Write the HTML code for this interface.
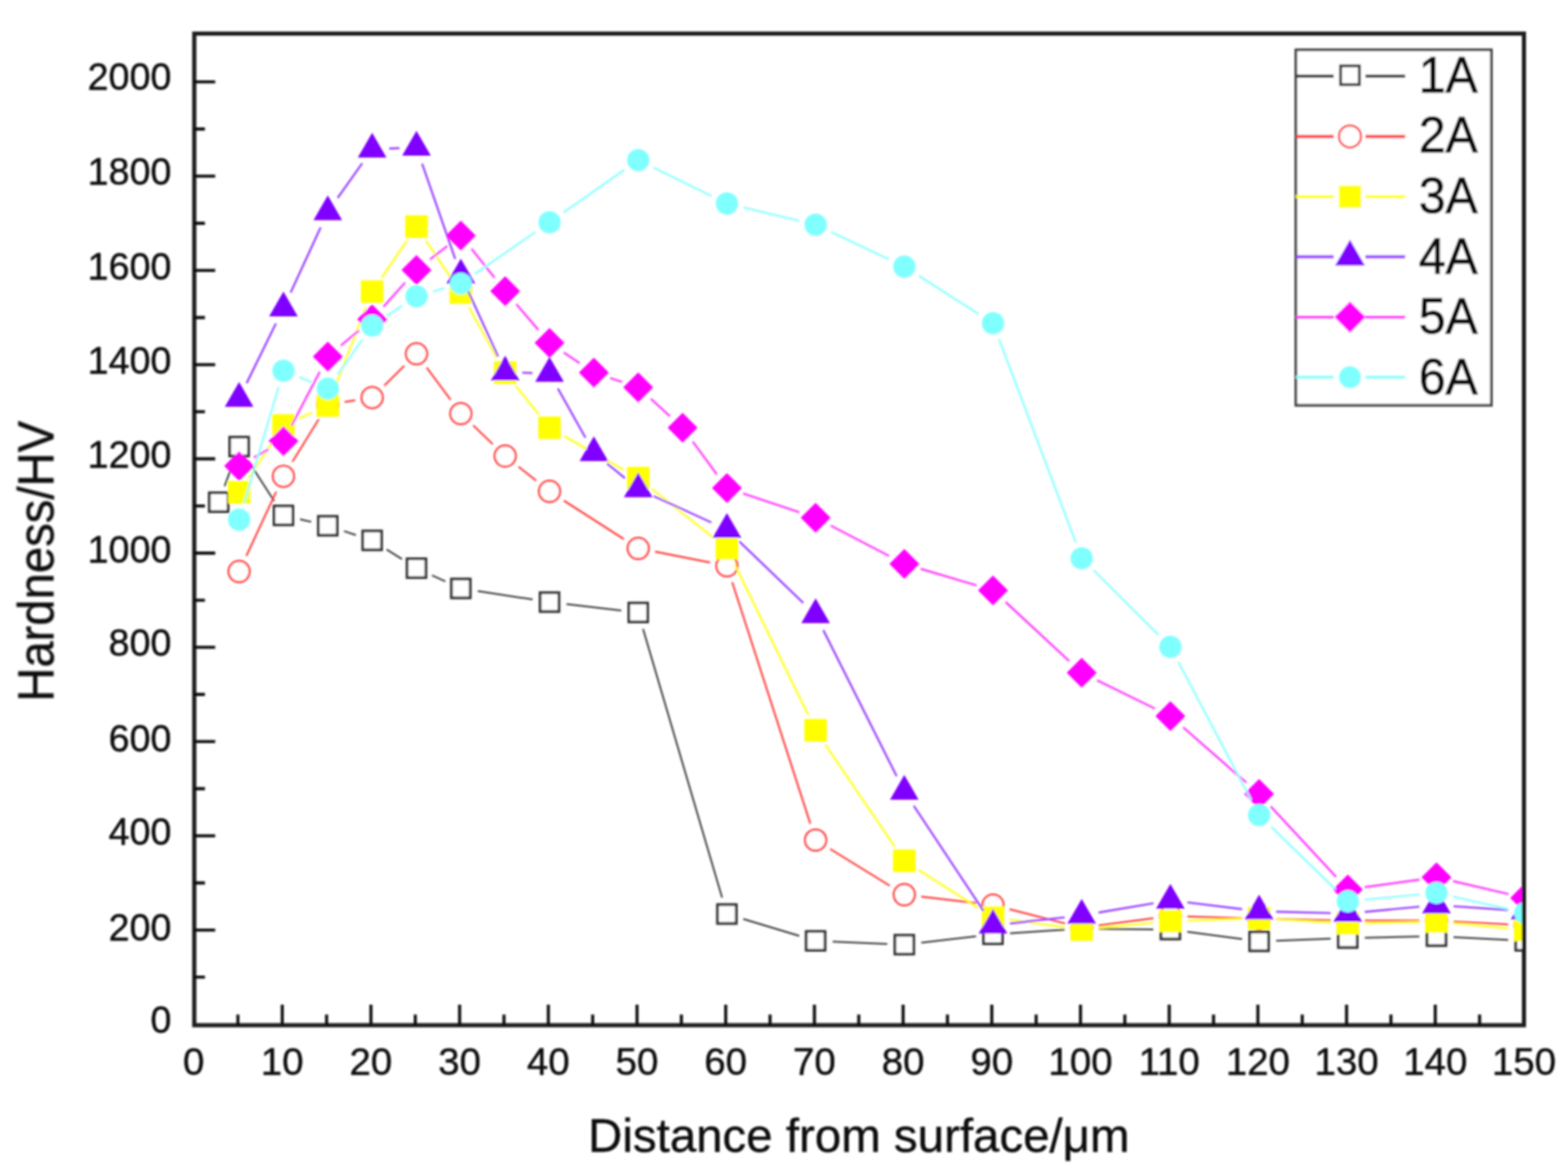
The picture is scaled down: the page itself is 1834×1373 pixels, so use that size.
<!DOCTYPE html>
<html><head><meta charset="utf-8"><title>Hardness profile</title>
<style>html,body{margin:0;padding:0;background:#fff;}body{width:1834px;height:1373px;overflow:hidden;}svg{display:block;}</style>
</head><body>
<svg width="1834" height="1373" viewBox="0 0 1834 1373"><defs><filter id="bl" x="0" y="0" width="1834" height="1373" filterUnits="userSpaceOnUse"><feGaussianBlur stdDeviation="0.8"/></filter><clipPath id="pc"><rect x="227.2" y="39.3" width="1553.8" height="1159.7"/></clipPath></defs><rect width="1834" height="1373" fill="#fff"/><g filter="url(#bl)"><g clip-path="url(#pc)"><path d="M262.70 568.56L272.78 541.09 M290.51 539.12L320.70 585.96 M351.02 607.32L363.93 610.34 M402.41 621.15L416.28 625.72 M452.23 642.59L470.20 653.86 M505.34 672.79L520.83 679.87 M558.79 691.22L622.99 701.11 M662.62 706.48L726.64 713.96 M752.14 735.47L844.60 1049.77 M869.38 1074.75L934.84 1094.57 M973.96 1101.21L1037.74 1103.92 M1077.58 1102.45L1141.60 1094.97 M1181.42 1091.38L1245.24 1087.31 M1285.20 1086.25L1348.94 1086.93 M1388.77 1089.77L1452.85 1098.28 M1492.67 1100.17L1556.43 1097.80 M1596.42 1096.63L1660.16 1095.28 M1700.13 1095.91L1763.93 1099.30" fill="none" stroke="#383838" stroke-width="2.0"/><rect x="244.81" y="576.34" width="22.0" height="22.0" fill="#fff" stroke="#333333" stroke-width="3.2"/><rect x="268.67" y="511.31" width="22.0" height="22.0" fill="#fff" stroke="#333333" stroke-width="3.2"/><rect x="320.54" y="591.77" width="22.0" height="22.0" fill="#fff" stroke="#333333" stroke-width="3.2"/><rect x="372.41" y="603.89" width="22.0" height="22.0" fill="#fff" stroke="#333333" stroke-width="3.2"/><rect x="424.28" y="620.97" width="22.0" height="22.0" fill="#fff" stroke="#333333" stroke-width="3.2"/><rect x="476.15" y="653.48" width="22.0" height="22.0" fill="#fff" stroke="#333333" stroke-width="3.2"/><rect x="528.02" y="677.18" width="22.0" height="22.0" fill="#fff" stroke="#333333" stroke-width="3.2"/><rect x="631.76" y="693.16" width="22.0" height="22.0" fill="#fff" stroke="#333333" stroke-width="3.2"/><rect x="735.50" y="705.28" width="22.0" height="22.0" fill="#fff" stroke="#333333" stroke-width="3.2"/><rect x="839.24" y="1057.95" width="22.0" height="22.0" fill="#fff" stroke="#333333" stroke-width="3.2"/><rect x="942.98" y="1089.36" width="22.0" height="22.0" fill="#fff" stroke="#333333" stroke-width="3.2"/><rect x="1046.72" y="1093.77" width="22.0" height="22.0" fill="#fff" stroke="#333333" stroke-width="3.2"/><rect x="1150.46" y="1081.65" width="22.0" height="22.0" fill="#fff" stroke="#333333" stroke-width="3.2"/><rect x="1254.20" y="1075.04" width="22.0" height="22.0" fill="#fff" stroke="#333333" stroke-width="3.2"/><rect x="1357.94" y="1076.14" width="22.0" height="22.0" fill="#fff" stroke="#333333" stroke-width="3.2"/><rect x="1461.68" y="1089.92" width="22.0" height="22.0" fill="#fff" stroke="#333333" stroke-width="3.2"/><rect x="1565.42" y="1086.06" width="22.0" height="22.0" fill="#fff" stroke="#333333" stroke-width="3.2"/><rect x="1669.16" y="1083.85" width="22.0" height="22.0" fill="#fff" stroke="#333333" stroke-width="3.2"/><rect x="1772.90" y="1089.36" width="22.0" height="22.0" fill="#fff" stroke="#333333" stroke-width="3.2"/><path d="M288.12 650.21L323.09 575.16 M342.07 540.03L372.88 490.27 M403.16 470.12L415.53 468.15 M449.51 450.95L472.92 427.81 M499.06 429.82L527.11 467.67 M553.48 497.56L576.43 519.51 M606.53 545.80L627.12 562.20 M659.58 585.48L729.68 630.53 M766.12 645.20L830.62 657.87 M856.40 680.76L947.82 963.41 M971.01 992.93L1040.69 1035.87 M1077.58 1048.68L1141.60 1056.16 M1180.84 1063.43L1245.82 1079.99 M1285.03 1082.30L1349.11 1073.79 M1388.93 1071.80L1452.69 1073.83 M1492.68 1074.89L1556.42 1076.24 M1596.42 1076.67L1660.16 1076.67 M1700.13 1077.73L1763.93 1081.12" fill="none" stroke="#ff4040" stroke-width="2.2"/><circle cx="279.67" cy="668.34" r="12.30" fill="#fff" stroke="#ff3535" stroke-width="2.5"/><circle cx="331.54" cy="557.03" r="12.30" fill="#fff" stroke="#ff3535" stroke-width="2.5"/><circle cx="383.41" cy="473.27" r="12.30" fill="#fff" stroke="#ff3535" stroke-width="2.5"/><circle cx="435.28" cy="465.00" r="12.30" fill="#fff" stroke="#ff3535" stroke-width="2.5"/><circle cx="487.15" cy="413.76" r="12.30" fill="#fff" stroke="#ff3535" stroke-width="2.5"/><circle cx="539.02" cy="483.74" r="12.30" fill="#fff" stroke="#ff3535" stroke-width="2.5"/><circle cx="590.89" cy="533.33" r="12.30" fill="#fff" stroke="#ff3535" stroke-width="2.5"/><circle cx="642.76" cy="574.66" r="12.30" fill="#fff" stroke="#ff3535" stroke-width="2.5"/><circle cx="746.50" cy="641.34" r="12.30" fill="#fff" stroke="#ff3535" stroke-width="2.5"/><circle cx="850.24" cy="661.73" r="12.30" fill="#fff" stroke="#ff3535" stroke-width="2.5"/><circle cx="953.98" cy="982.44" r="12.30" fill="#fff" stroke="#ff3535" stroke-width="2.5"/><circle cx="1057.72" cy="1046.36" r="12.30" fill="#fff" stroke="#ff3535" stroke-width="2.5"/><circle cx="1161.46" cy="1058.48" r="12.30" fill="#fff" stroke="#ff3535" stroke-width="2.5"/><circle cx="1265.20" cy="1084.93" r="12.30" fill="#fff" stroke="#ff3535" stroke-width="2.5"/><circle cx="1368.94" cy="1071.16" r="12.30" fill="#fff" stroke="#ff3535" stroke-width="2.5"/><circle cx="1472.68" cy="1074.46" r="12.30" fill="#fff" stroke="#ff3535" stroke-width="2.5"/><circle cx="1576.42" cy="1076.67" r="12.30" fill="#fff" stroke="#ff3535" stroke-width="2.5"/><circle cx="1680.16" cy="1076.67" r="12.30" fill="#fff" stroke="#ff3535" stroke-width="2.5"/><circle cx="1783.90" cy="1082.18" r="12.30" fill="#fff" stroke="#ff3535" stroke-width="2.5"/><path d="M290.72 559.09L320.49 514.19 M349.80 489.37L365.15 482.52 M390.66 455.73L428.03 359.66 M446.55 324.49L475.88 281.49 M498.31 281.57L527.86 325.52 M548.71 359.62L581.20 418.30 M603.43 451.38L630.22 484.69 M660.15 510.15L729.11 549.35 M762.18 571.65L834.56 628.93 M859.01 659.32L945.21 836.07 M965.22 870.59L1046.48 990.14 M1074.59 1017.44L1144.59 1062.06 M1181.27 1075.55L1245.39 1084.40 M1285.11 1085.24L1349.03 1079.12 M1388.93 1076.58L1452.69 1074.55 M1492.65 1075.08L1556.45 1078.81 M1596.42 1079.55L1660.16 1078.20 M1700.07 1079.67L1763.99 1085.79" fill="none" stroke="#ffff20" stroke-width="2.4"/><rect x="266.52" y="562.61" width="26.3" height="26.3" fill="#ffff00"/><rect x="318.39" y="484.37" width="26.3" height="26.3" fill="#ffff00"/><rect x="370.26" y="461.22" width="26.3" height="26.3" fill="#ffff00"/><rect x="422.13" y="327.87" width="26.3" height="26.3" fill="#ffff00"/><rect x="474.00" y="251.82" width="26.3" height="26.3" fill="#ffff00"/><rect x="525.87" y="328.97" width="26.3" height="26.3" fill="#ffff00"/><rect x="577.74" y="422.65" width="26.3" height="26.3" fill="#ffff00"/><rect x="629.61" y="487.12" width="26.3" height="26.3" fill="#ffff00"/><rect x="733.35" y="546.08" width="26.3" height="26.3" fill="#ffff00"/><rect x="837.09" y="628.19" width="26.3" height="26.3" fill="#ffff00"/><rect x="940.83" y="840.89" width="26.3" height="26.3" fill="#ffff00"/><rect x="1044.57" y="993.54" width="26.3" height="26.3" fill="#ffff00"/><rect x="1148.31" y="1059.66" width="26.3" height="26.3" fill="#ffff00"/><rect x="1252.05" y="1073.99" width="26.3" height="26.3" fill="#ffff00"/><rect x="1355.79" y="1064.07" width="26.3" height="26.3" fill="#ffff00"/><rect x="1459.53" y="1060.76" width="26.3" height="26.3" fill="#ffff00"/><rect x="1563.27" y="1066.83" width="26.3" height="26.3" fill="#ffff00"/><rect x="1667.01" y="1064.62" width="26.3" height="26.3" fill="#ffff00"/><rect x="1770.75" y="1074.54" width="26.3" height="26.3" fill="#ffff00"/><path d="M288.47 448.15L322.74 378.26 M339.92 342.14L375.03 266.05 M394.96 231.56L423.73 190.93 M455.26 173.75L467.17 173.25 M493.71 191.29L532.46 302.84 M547.33 339.92L582.58 417.06 M610.88 435.88L622.77 436.26 M652.54 454.35L684.85 512.03 M710.11 542.14L731.02 559.24 M764.69 580.22L832.05 610.99 M864.66 633.16L939.56 705.18 M962.95 736.91L1048.75 907.81 M1068.77 942.35L1150.41 1065.51 M1181.34 1079.96L1245.32 1072.82 M1284.92 1067.26L1349.22 1056.33 M1388.79 1055.40L1452.83 1063.22 M1492.67 1066.18L1556.43 1067.87 M1596.33 1066.50L1660.25 1060.39 M1700.11 1059.86L1763.95 1064.27" fill="none" stroke="#9a45ff" stroke-width="2.4"/><polygon points="279.67,446.76 262.92,475.78 296.42,475.78" fill="#8000ff"/><polygon points="331.54,340.96 314.79,369.97 348.29,369.97" fill="#8000ff"/><polygon points="383.41,228.55 366.66,257.56 400.16,257.56" fill="#8000ff"/><polygon points="435.28,155.26 418.53,184.27 452.03,184.27" fill="#8000ff"/><polygon points="487.15,153.05 470.40,182.07 503.90,182.07" fill="#8000ff"/><polygon points="539.02,302.39 522.27,331.40 555.77,331.40" fill="#8000ff"/><polygon points="590.89,415.91 574.14,444.92 607.64,444.92" fill="#8000ff"/><polygon points="642.76,417.56 626.01,446.57 659.51,446.57" fill="#8000ff"/><polygon points="694.63,510.14 677.88,539.15 711.38,539.15" fill="#8000ff"/><polygon points="746.50,552.57 729.75,581.58 763.25,581.58" fill="#8000ff"/><polygon points="850.24,599.96 833.49,628.97 866.99,628.97" fill="#8000ff"/><polygon points="953.98,699.70 937.23,728.71 970.73,728.71" fill="#8000ff"/><polygon points="1057.72,906.34 1040.97,935.35 1074.47,935.35" fill="#8000ff"/><polygon points="1161.46,1062.84 1144.71,1091.85 1178.21,1091.85" fill="#8000ff"/><polygon points="1265.20,1051.27 1248.45,1080.28 1281.95,1080.28" fill="#8000ff"/><polygon points="1368.94,1033.63 1352.19,1062.64 1385.69,1062.64" fill="#8000ff"/><polygon points="1472.68,1046.31 1455.93,1075.32 1489.43,1075.32" fill="#8000ff"/><polygon points="1576.42,1049.06 1559.67,1078.07 1593.17,1078.07" fill="#8000ff"/><polygon points="1680.16,1039.14 1663.41,1068.15 1696.91,1068.15" fill="#8000ff"/><polygon points="1783.90,1046.31 1767.15,1075.32 1800.65,1075.32" fill="#8000ff"/><path d="M297.10 535.09L314.11 525.51 M340.85 498.00L374.10 434.76 M398.73 404.20L419.96 386.39 M448.63 358.64L473.80 330.56 M502.95 303.41L523.22 287.70 M551.49 291.08L578.42 324.83 M603.89 355.66L629.76 385.89 M659.38 412.21L678.01 424.67 M713.63 442.05L727.50 446.62 M761.27 466.37L783.60 486.78 M810.22 516.38L838.39 554.69 M869.21 577.15L935.01 599.17 M971.72 614.76L1039.98 650.29 M1076.89 665.23L1142.29 684.68 M1176.11 704.00L1250.55 773.20 M1283.17 795.60L1350.97 828.73 M1383.98 850.70L1457.64 915.25 M1486.28 943.10L1562.82 1025.64 M1596.23 1037.56L1660.35 1028.71 M1699.64 1030.52L1764.42 1045.67" fill="none" stroke="#ff3cff" stroke-width="2.4"/><polygon points="279.67,527.41 297.17,544.91 279.67,562.41 262.17,544.91" fill="#ff00ff"/><polygon points="331.54,498.20 349.04,515.70 331.54,533.20 314.04,515.70" fill="#ff00ff"/><polygon points="383.41,399.56 400.91,417.06 383.41,434.56 365.91,417.06" fill="#ff00ff"/><polygon points="435.28,356.03 452.78,373.53 435.28,391.03 417.78,373.53" fill="#ff00ff"/><polygon points="487.15,298.17 504.65,315.67 487.15,333.17 469.65,315.67" fill="#ff00ff"/><polygon points="539.02,257.94 556.52,275.44 539.02,292.94 521.52,275.44" fill="#ff00ff"/><polygon points="590.89,322.97 608.39,340.47 590.89,357.97 573.39,340.47" fill="#ff00ff"/><polygon points="642.76,383.58 660.26,401.08 642.76,418.58 625.26,401.08" fill="#ff00ff"/><polygon points="694.63,418.30 712.13,435.80 694.63,453.30 677.13,435.80" fill="#ff00ff"/><polygon points="746.50,435.38 764.00,452.88 746.50,470.38 729.00,452.88" fill="#ff00ff"/><polygon points="798.37,482.77 815.87,500.27 798.37,517.77 780.87,500.27" fill="#ff00ff"/><polygon points="850.24,553.31 867.74,570.81 850.24,588.31 832.74,570.81" fill="#ff00ff"/><polygon points="953.98,588.02 971.48,605.52 953.98,623.02 936.48,605.52" fill="#ff00ff"/><polygon points="1057.72,642.02 1075.22,659.52 1057.72,677.02 1040.22,659.52" fill="#ff00ff"/><polygon points="1161.46,672.88 1178.96,690.38 1161.46,707.88 1143.96,690.38" fill="#ff00ff"/><polygon points="1265.20,769.32 1282.70,786.82 1265.20,804.32 1247.70,786.82" fill="#ff00ff"/><polygon points="1368.94,820.01 1386.44,837.51 1368.94,855.01 1351.44,837.51" fill="#ff00ff"/><polygon points="1472.68,910.94 1490.18,928.44 1472.68,945.94 1455.18,928.44" fill="#ff00ff"/><polygon points="1576.42,1022.80 1593.92,1040.30 1576.42,1057.80 1558.92,1040.30" fill="#ff00ff"/><polygon points="1680.16,1008.47 1697.66,1025.97 1680.16,1043.47 1662.66,1025.97" fill="#ff00ff"/><polygon points="1783.90,1032.72 1801.40,1050.22 1783.90,1067.72 1766.40,1050.22" fill="#ff00ff"/><path d="M285.38 588.56L325.83 452.76 M350.09 441.08L364.86 447.05 M394.91 438.17L423.78 397.06 M451.98 369.69L470.45 357.53 M506.37 341.01L519.80 337.16 M555.48 320.28L626.30 271.38 M659.14 248.53L730.12 198.76 M764.47 196.06L832.27 229.19 M869.69 242.62L934.53 258.12 M972.06 271.32L1039.64 303.26 M1074.59 322.56L1144.59 367.19 M1168.52 396.65L1258.14 634.20 M1279.35 667.04L1354.79 742.38 M1378.27 774.20L1463.35 935.54 M1487.02 967.17L1562.08 1040.14 M1596.33 1052.17L1660.25 1046.06 M1699.66 1048.61L1764.40 1063.40" fill="none" stroke="#8cffff" stroke-width="2.3"/><circle cx="279.67" cy="607.73" r="13.00" fill="#80ffff"/><circle cx="331.54" cy="433.59" r="13.00" fill="#80ffff"/><circle cx="383.41" cy="454.53" r="13.00" fill="#80ffff"/><circle cx="435.28" cy="380.69" r="13.00" fill="#80ffff"/><circle cx="487.15" cy="346.53" r="13.00" fill="#80ffff"/><circle cx="539.02" cy="331.65" r="13.00" fill="#80ffff"/><circle cx="642.76" cy="260.01" r="13.00" fill="#80ffff"/><circle cx="746.50" cy="187.27" r="13.00" fill="#80ffff"/><circle cx="850.24" cy="237.97" r="13.00" fill="#80ffff"/><circle cx="953.98" cy="262.77" r="13.00" fill="#80ffff"/><circle cx="1057.72" cy="311.81" r="13.00" fill="#80ffff"/><circle cx="1161.46" cy="377.94" r="13.00" fill="#80ffff"/><circle cx="1265.20" cy="652.91" r="13.00" fill="#80ffff"/><circle cx="1368.94" cy="756.51" r="13.00" fill="#80ffff"/><circle cx="1472.68" cy="953.23" r="13.00" fill="#80ffff"/><circle cx="1576.42" cy="1054.08" r="13.00" fill="#80ffff"/><circle cx="1680.16" cy="1044.16" r="13.00" fill="#80ffff"/><circle cx="1783.90" cy="1067.85" r="13.00" fill="#80ffff"/></g><rect x="227.2" y="39.3" width="1555.3" height="1159.7" fill="none" stroke="#1a1a1a" stroke-width="4.8"/><path d="M278.27 1199.0V1186.5 M330.14 1199.0V1175.0 M382.01 1199.0V1186.5 M433.88 1199.0V1175.0 M485.75 1199.0V1186.5 M537.62 1199.0V1175.0 M589.49 1199.0V1186.5 M641.36 1199.0V1175.0 M693.23 1199.0V1186.5 M745.10 1199.0V1175.0 M796.97 1199.0V1186.5 M848.84 1199.0V1175.0 M900.71 1199.0V1186.5 M952.58 1199.0V1175.0 M1004.45 1199.0V1186.5 M1056.32 1199.0V1175.0 M1108.19 1199.0V1186.5 M1160.06 1199.0V1175.0 M1211.93 1199.0V1186.5 M1263.80 1199.0V1175.0 M1315.67 1199.0V1186.5 M1367.54 1199.0V1175.0 M1419.41 1199.0V1186.5 M1471.28 1199.0V1175.0 M1523.15 1199.0V1186.5 M1575.02 1199.0V1175.0 M1626.89 1199.0V1186.5 M1678.76 1199.0V1175.0 M1730.63 1199.0V1186.5 M227.2 1142.80H239.7 M227.2 1087.69H251.7 M227.2 1032.59H239.7 M227.2 977.48H251.7 M227.2 922.38H239.7 M227.2 867.27H251.7 M227.2 812.17H239.7 M227.2 757.06H251.7 M227.2 701.96H239.7 M227.2 646.85H251.7 M227.2 591.75H239.7 M227.2 536.64H251.7 M227.2 481.54H239.7 M227.2 426.43H251.7 M227.2 371.33H239.7 M227.2 316.22H251.7 M227.2 261.12H239.7 M227.2 206.01H251.7 M227.2 150.90H239.7 M227.2 95.80H251.7" stroke="#111" stroke-width="3.6" fill="none"/><text x="226.40" y="1256.8" font-family="'Liberation Sans', Arial, sans-serif" stroke="#111" stroke-width="0.5" font-size="45" text-anchor="middle" fill="#111">0</text><text x="330.14" y="1256.8" font-family="'Liberation Sans', Arial, sans-serif" stroke="#111" stroke-width="0.5" font-size="45" text-anchor="middle" fill="#111">10</text><text x="433.88" y="1256.8" font-family="'Liberation Sans', Arial, sans-serif" stroke="#111" stroke-width="0.5" font-size="45" text-anchor="middle" fill="#111">20</text><text x="537.62" y="1256.8" font-family="'Liberation Sans', Arial, sans-serif" stroke="#111" stroke-width="0.5" font-size="45" text-anchor="middle" fill="#111">30</text><text x="641.36" y="1256.8" font-family="'Liberation Sans', Arial, sans-serif" stroke="#111" stroke-width="0.5" font-size="45" text-anchor="middle" fill="#111">40</text><text x="745.10" y="1256.8" font-family="'Liberation Sans', Arial, sans-serif" stroke="#111" stroke-width="0.5" font-size="45" text-anchor="middle" fill="#111">50</text><text x="848.84" y="1256.8" font-family="'Liberation Sans', Arial, sans-serif" stroke="#111" stroke-width="0.5" font-size="45" text-anchor="middle" fill="#111">60</text><text x="952.58" y="1256.8" font-family="'Liberation Sans', Arial, sans-serif" stroke="#111" stroke-width="0.5" font-size="45" text-anchor="middle" fill="#111">70</text><text x="1056.32" y="1256.8" font-family="'Liberation Sans', Arial, sans-serif" stroke="#111" stroke-width="0.5" font-size="45" text-anchor="middle" fill="#111">80</text><text x="1160.06" y="1256.8" font-family="'Liberation Sans', Arial, sans-serif" stroke="#111" stroke-width="0.5" font-size="45" text-anchor="middle" fill="#111">90</text><text x="1263.80" y="1256.8" font-family="'Liberation Sans', Arial, sans-serif" stroke="#111" stroke-width="0.5" font-size="45" text-anchor="middle" fill="#111">100</text><text x="1367.54" y="1256.8" font-family="'Liberation Sans', Arial, sans-serif" stroke="#111" stroke-width="0.5" font-size="45" text-anchor="middle" fill="#111">110</text><text x="1471.28" y="1256.8" font-family="'Liberation Sans', Arial, sans-serif" stroke="#111" stroke-width="0.5" font-size="45" text-anchor="middle" fill="#111">120</text><text x="1575.02" y="1256.8" font-family="'Liberation Sans', Arial, sans-serif" stroke="#111" stroke-width="0.5" font-size="45" text-anchor="middle" fill="#111">130</text><text x="1678.76" y="1256.8" font-family="'Liberation Sans', Arial, sans-serif" stroke="#111" stroke-width="0.5" font-size="45" text-anchor="middle" fill="#111">140</text><text x="1782.50" y="1256.8" font-family="'Liberation Sans', Arial, sans-serif" stroke="#111" stroke-width="0.5" font-size="45" text-anchor="middle" fill="#111">150</text><text x="200.5" y="1208.30" font-family="'Liberation Sans', Arial, sans-serif" stroke="#111" stroke-width="0.5" font-size="44" text-anchor="end" fill="#111">0</text><text x="200.5" y="1099.99" font-family="'Liberation Sans', Arial, sans-serif" stroke="#111" stroke-width="0.5" font-size="44" text-anchor="end" fill="#111">200</text><text x="200.5" y="987.88" font-family="'Liberation Sans', Arial, sans-serif" stroke="#111" stroke-width="0.5" font-size="44" text-anchor="end" fill="#111">400</text><text x="200.5" y="879.47" font-family="'Liberation Sans', Arial, sans-serif" stroke="#111" stroke-width="0.5" font-size="44" text-anchor="end" fill="#111">600</text><text x="200.5" y="767.46" font-family="'Liberation Sans', Arial, sans-serif" stroke="#111" stroke-width="0.5" font-size="44" text-anchor="end" fill="#111">800</text><text x="200.5" y="657.75" font-family="'Liberation Sans', Arial, sans-serif" stroke="#111" stroke-width="0.5" font-size="44" text-anchor="end" fill="#111">1000</text><text x="200.5" y="547.04" font-family="'Liberation Sans', Arial, sans-serif" stroke="#111" stroke-width="0.5" font-size="44" text-anchor="end" fill="#111">1200</text><text x="200.5" y="436.83" font-family="'Liberation Sans', Arial, sans-serif" stroke="#111" stroke-width="0.5" font-size="44" text-anchor="end" fill="#111">1400</text><text x="200.5" y="326.62" font-family="'Liberation Sans', Arial, sans-serif" stroke="#111" stroke-width="0.5" font-size="44" text-anchor="end" fill="#111">1600</text><text x="200.5" y="216.41" font-family="'Liberation Sans', Arial, sans-serif" stroke="#111" stroke-width="0.5" font-size="44" text-anchor="end" fill="#111">1800</text><text x="200.5" y="104.80" font-family="'Liberation Sans', Arial, sans-serif" stroke="#111" stroke-width="0.5" font-size="44" text-anchor="end" fill="#111">2000</text><text x="1004.5" y="1347" font-family="'Liberation Sans', Arial, sans-serif" stroke="#111" stroke-width="0.5" font-size="55.5" text-anchor="middle" fill="#111">Distance from surface/μm</text><text transform="translate(62.5,656.5) rotate(-90)" font-family="'Liberation Sans', Arial, sans-serif" stroke="#111" stroke-width="0.5" font-size="58.5" text-anchor="middle" textLength="328.5" lengthAdjust="spacingAndGlyphs" fill="#111">Hardness/HV</text><rect x="1515.7" y="58.3" width="228.7" height="415.7" fill="#fff" stroke="#444" stroke-width="3.2"/><path d="M1515.7 89.2H1560M1597 89.2H1643.5" stroke="#383838" stroke-width="3.8" fill="none"/><rect x="1568.00" y="77.00" width="22.0" height="22.0" fill="#fff" stroke="#333333" stroke-width="3.2"/><text x="1659.5" y="107.6" font-family="'Liberation Sans', Arial, sans-serif" stroke="#111" stroke-width="0.9" font-size="59" textLength="69" lengthAdjust="spacingAndGlyphs" fill="#111">1A</text><path d="M1515.7 159.6H1560M1597 159.6H1643.5" stroke="#ff4040" stroke-width="3.8" fill="none"/><circle cx="1579.00" cy="159.60" r="12.92" fill="#fff" stroke="#ff3535" stroke-width="2.5"/><text x="1659.5" y="178.3" font-family="'Liberation Sans', Arial, sans-serif" stroke="#111" stroke-width="0.9" font-size="59" textLength="69" lengthAdjust="spacingAndGlyphs" fill="#111">2A</text><path d="M1515.7 230.0H1560M1597 230.0H1643.5" stroke="#ffff20" stroke-width="3.8" fill="none"/><rect x="1565.85" y="216.85" width="26.3" height="26.3" fill="#ffff00"/><text x="1659.5" y="249.0" font-family="'Liberation Sans', Arial, sans-serif" stroke="#111" stroke-width="0.9" font-size="59" textLength="69" lengthAdjust="spacingAndGlyphs" fill="#111">3A</text><path d="M1515.7 300.4H1560M1597 300.4H1643.5" stroke="#9a45ff" stroke-width="3.8" fill="none"/><polygon points="1579.00,280.29 1561.58,310.46 1596.42,310.46" fill="#8000ff"/><text x="1659.5" y="319.7" font-family="'Liberation Sans', Arial, sans-serif" stroke="#111" stroke-width="0.9" font-size="59" textLength="69" lengthAdjust="spacingAndGlyphs" fill="#111">4A</text><path d="M1515.7 370.8H1560M1597 370.8H1643.5" stroke="#ff3cff" stroke-width="3.8" fill="none"/><polygon points="1579.00,352.43 1597.38,370.80 1579.00,389.18 1560.62,370.80" fill="#ff00ff"/><text x="1659.5" y="390.4" font-family="'Liberation Sans', Arial, sans-serif" stroke="#111" stroke-width="0.9" font-size="59" textLength="69" lengthAdjust="spacingAndGlyphs" fill="#111">5A</text><path d="M1515.7 441.2H1560M1597 441.2H1643.5" stroke="#8cffff" stroke-width="3.8" fill="none"/><circle cx="1579.00" cy="441.20" r="12.87" fill="#80ffff"/><text x="1659.5" y="461.1" font-family="'Liberation Sans', Arial, sans-serif" stroke="#111" stroke-width="0.9" font-size="59" textLength="69" lengthAdjust="spacingAndGlyphs" fill="#111">6A</text></g></svg>
</body></html>
